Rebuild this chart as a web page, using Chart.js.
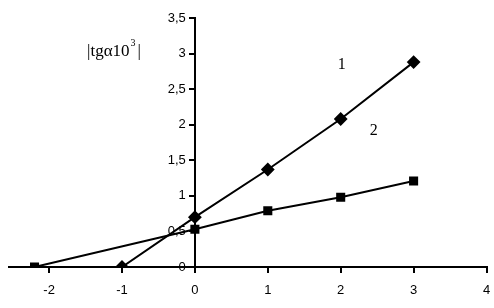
<!DOCTYPE html>
<html>
<head>
<meta charset="utf-8">
<script src="https://cdn.jsdelivr.net/npm/chart.js@4"></script>
<style>
  html, body { margin: 0; padding: 0; background: #fff; }
  #wrap { width: 494px; height: 308px; }
</style>
</head>
<body>
<div id="wrap"><canvas id="grafico"></canvas></div>
<script>
// curva 1 (losangos) e curva 2 (quadrados)
const curva1X = [-1, 0, 1, 2, 3];
const curva1Y = [0, 0.7, 1.37, 2.08, 2.88];
const curva2X = [-2.2, 0, 1, 2, 3];
const curva2Y = [0, 0.53, 0.79, 0.98, 1.21];
const ticksX = [-2, -1, 0, 1, 2, 3, 4];
const ticksY = [0, 0.5, 1, 1.5, 2, 2.5, 3, 3.5];

const pontos = (xs, ys) => xs.map((x, i) => ({ x: x, y: ys[i] }));
const familia = "'Liberation Sans Narrow', 'Liberation Sans'";

// textos soltos: numero das curvas e rotulo do eixo
const rotulos = {
    id: "rotulos",
    afterDraw(chart) {
        const c = chart.ctx;
        const sx = chart.scales.x, sy = chart.scales.y;
        c.save();
        c.fillStyle = "#000";
        c.textBaseline = "alphabetic";
        c.font = "16px 'Liberation Serif'";
        c.fillText("1", sx.getPixelForValue(1.96), sy.getPixelForValue(2.78));
        c.fillText("2", sx.getPixelForValue(2.4), sy.getPixelForValue(1.86));

        let x = 87, y = 56;
        c.font = "17px 'Liberation Serif'";
        const t = "|tg\u03b110";
        c.fillText(t, x, y);
        x += c.measureText(t).width;
        c.font = "10px 'Liberation Serif'";
        c.fillText("3", x + 1, y - 10);
        x += c.measureText("3").width + 3;
        c.font = "17px 'Liberation Serif'";
        c.fillText("|", x, y);
        c.restore();
    }
};

new Chart(document.getElementById("grafico").getContext("2d"), {
    type: "scatter",
    data: {
        datasets: [
            {
                label: "1",
                data: pontos(curva1X, curva1Y),
                showLine: true,
                borderColor: "#000",
                borderWidth: 2,
                backgroundColor: "#000",
                pointStyle: "rectRot",
                pointRadius: 5.5,
                pointHoverRadius: 5.5,
            },
            {
                label: "2",
                data: pontos(curva2X, curva2Y),
                showLine: true,
                borderColor: "#000",
                borderWidth: 2,
                backgroundColor: "#000",
                pointStyle: "rect",
                pointRadius: 5,
                pointHoverRadius: 5,
            },
        ],
    },
    options: {
        responsive: true,
        maintainAspectRatio: false,
        animation: false,
        layout: { padding: { left: 9, right: 5, top: 18, bottom: 41 } },
        plugins: {
            legend: { display: false },
            tooltip: { enabled: false },
        },
        scales: {
            x: {
                type: "linear",
                position: { y: 0 },
                min: -2.55,
                max: 4,
                afterBuildTicks: (s) => { s.ticks = ticksX.map((v) => ({ value: v })); },
                grid: { drawOnChartArea: false, drawTicks: true, tickLength: 5, color: "#000", lineWidth: 2 },
                border: { color: "#000", width: 2 },
                ticks: {
                    color: "#000",
                    // lineHeight grande desce o rotulo sem alargar a margem direita
                    font: { family: familia, size: 13, lineHeight: 2.6 },
                    padding: 2,
                    maxRotation: 0,
                },
            },
            y: {
                type: "linear",
                position: { x: 0 },
                min: 0,
                max: 3.5,
                afterBuildTicks: (s) => { s.ticks = ticksY.map((v) => ({ value: v })); },
                grid: { drawOnChartArea: false, drawTicks: true, tickLength: 5, color: "#000", lineWidth: 2 },
                border: { color: "#000", width: 2 },
                ticks: {
                    color: "#000",
                    font: { family: familia, size: 13 },
                    // espaco no fim afasta o rotulo do eixo
                    callback: (v) => String(v).replace(".", ",") + "\u2002\u2009",
                },
            },
        },
    },
    plugins: [rotulos],
});
</script>
</body>
</html>
